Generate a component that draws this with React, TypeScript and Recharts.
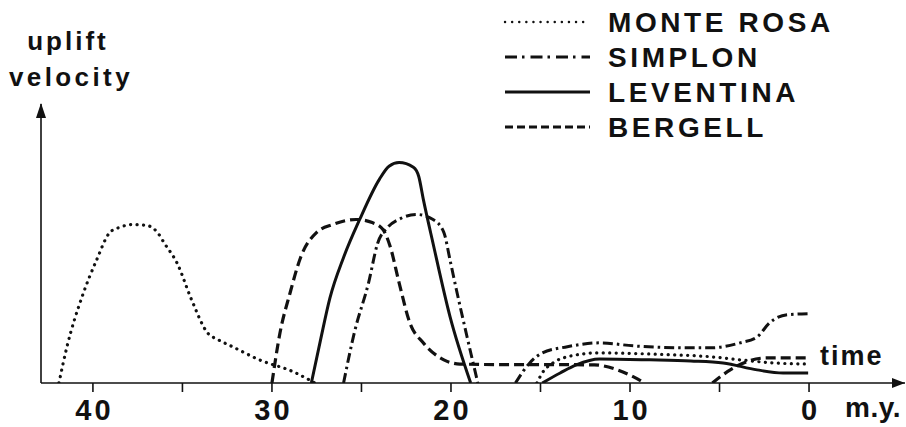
import React from 'react';
import { LineChart, Line, XAxis, YAxis, Legend } from 'recharts';

// ages in m.y. (x axis runs from old on the left to 0 on the right), uplift velocity in relative units (0-100)
// null velocity = gap between two separate episodes of the same massif

const MONTE_ROSA_AGE = [41.9, 41.45, 40.6, 39.8, 39.05, 38.5, 37.8, 37.0, 36.4, 36.0, 35.3, 34.5, 33.6, 33.0, 32.2, 30.7, 28.8, 27.6, 20, 15.2, 14.9, 14.3, 13.5, 11.7, 8.5, 5.5, 3.85, 2.0, 0.05];
const MONTE_ROSA_VEL = [0, 13, 31, 44, 54, 55.8, 56.8, 56.5, 54, 50, 43, 30, 18, 15.5, 13, 8.3, 4, 0, null, 0, 3.6, 7.2, 9.4, 10.8, 10.3, 9.4, 8.3, 7.2, 6.8];

const SIMPLON_AGE = [26.0, 25.4, 24.6, 24.1, 23.5, 22.8, 21.9, 21.0, 20.4, 20.05, 19.7, 19.1, 18.5, 17.5, 16.4, 15.6, 14.9, 13.5, 11.7, 9.8, 6.6, 5.5, 3.85, 2.9, 2.2, 1.2, 0.05];
const SIMPLON_VEL = [0, 18, 36, 50, 56, 59, 60.4, 58.6, 54, 44, 33.5, 16.5, 0, null, 0, 7.2, 10.8, 13, 14.4, 13.3, 12.6, 12.6, 14.4, 16.5, 21.6, 24.5, 24.8];

const LEVENTINA_AGE = [27.8, 27.3, 26.76, 26.0, 25.1, 24.0, 23.46, 22.9, 22.1, 21.8, 21.55, 21.0, 20.05, 18.9, 17, 14.9, 13.9, 13.0, 11.7, 8.9, 6.6, 4.8, 2.9, 1.45, 0.05];
const LEVENTINA_VEL = [0, 15, 30.5, 45, 58.6, 73, 77.7, 79, 77.3, 74, 66, 50, 23.7, 0, null, 0, 3.6, 6.5, 8.6, 8.3, 7.9, 7.2, 4.7, 3.6, 3.6];

const BERGELL_AGE = [30.0, 29.55, 29.0, 28.4, 27.5, 26.6, 25.3, 24.4, 23.8, 23.4, 22.9, 22.3, 21.55, 20.4, 19.5, 17.3, 15.6, 12.0, 10.7, 9.8, 9.2, 7, 5.4, 4.4, 3.5, 2.35, 0.05];
const BERGELL_VEL = [0, 18, 32, 45, 54, 56.8, 58.6, 57.5, 55, 49, 36, 21.6, 14.4, 8.3, 6.8, 6.6, 6.6, 6.5, 4.7, 2.2, 0, null, 0, 4.7, 7.6, 9, 9];

const AGE_TICKS = [40, 35, 30, 25, 20, 15, 10, 5, 0];

const toPoints = (ages: number[], vel: (number | null)[]) => ages.map((age, i) => ({ age, v: vel[i] }));

const FONT = '"Liberation Sans", Arial, sans-serif';
const INK = '#111';

const SERIES = [
  { name: 'MONTE ROSA', data: toPoints(MONTE_ROSA_AGE, MONTE_ROSA_VEL), dash: '0.1 6.4', legendDash: '0.1 7', cap: 'round', width: 3.2 },
  { name: 'SIMPLON', data: toPoints(SIMPLON_AGE, SIMPLON_VEL), dash: '10 4 2.5 4', legendDash: '12 5 2.5 6', cap: 'butt', width: 3 },
  { name: 'LEVENTINA', data: toPoints(LEVENTINA_AGE, LEVENTINA_VEL), dash: undefined, legendDash: undefined, cap: 'butt', width: 3 },
  { name: 'BERGELL', data: toPoints(BERGELL_AGE, BERGELL_VEL), dash: '10 5', legendDash: '8 4', cap: 'butt', width: 3.2 },
];

const AgeTick = ({ x, y, payload }: any) => {
  if (payload.value % 10 !== 0) return <g />;
  return (
    <text x={x + 1.5} y={y} dy={26} textAnchor="middle" fontFamily={FONT} fontWeight={700}
      fontSize={29} letterSpacing={3} fill={INK}>
      {payload.value}
    </text>
  );
};

const renderLegend = () => (
  <svg width={360} height={150}>
    {SERIES.map((s, i) => {
      const cy = 22 + i * 35;
      return (
        <g key={s.name}>
          <line x1={5} x2={90} y1={cy} y2={cy} stroke={INK} strokeWidth={s.cap === 'round' ? 2.4 : 2.8}
            strokeDasharray={s.legendDash} strokeLinecap={s.cap as any} />
          <text x={108} y={cy + 10} fontFamily={FONT} fontWeight={700} fontSize={28}
            letterSpacing={3.6} fill={INK}>
            {s.name}
          </text>
        </g>
      );
    })}
  </svg>
);

// x-axis label: arrow head at the right end of the axis, plus "time" and "m.y."
const xLabel = (props: any) => {
  const { x, y, width } = props.viewBox;
  const right = x + width;
  return (
    <g>
      <path d={`M${right - 13},${y - 5} L${right},${y} L${right - 13},${y + 5} Z`} fill={INK} />
      <text x={right - 85} y={y - 18} fontFamily={FONT} fontWeight={700} fontSize={27} letterSpacing={2} fill={INK}>time</text>
      <text x={right - 60} y={y + 34} fontFamily={FONT} fontWeight={700} fontSize={28} letterSpacing={0.5} fill={INK}>m.y.</text>
    </g>
  );
};

// y-axis label: arrow head at the top of the axis, plus the two-line title
const yLabel = (props: any) => {
  const { x, y, width } = props.viewBox;
  const ax = x + width;
  return (
    <g fontFamily={FONT} fontWeight={700} fontSize={26} fill={INK} textAnchor="middle">
      <path d={`M${ax - 5},${y + 14} L${ax},${y - 1} L${ax + 5},${y + 14} Z`} fill={INK} />
      <text x={ax + 27} y={y - 54} letterSpacing={3}>uplift</text>
      <text x={ax + 30} y={y - 18} letterSpacing={3.4}>velocity</text>
    </g>
  );
};

export default function App() {
  return (
    <div style={{ position: 'absolute', left: 0, top: 0, width: 906, height: 427, background: '#fff' }}>
      <LineChart width={906} height={427} margin={{ top: 104, right: 1, bottom: 0, left: 40 }}>
        <XAxis type="number" dataKey="age" domain={[-5.36, 42.9]} reversed allowDataOverflow
          ticks={AGE_TICKS} interval={0} height={44} tickSize={9} tick={<AgeTick />}
          tickLine={{ stroke: INK, strokeWidth: 1.6 }}
          axisLine={{ stroke: INK, strokeWidth: 1.6 }}
          label={xLabel} />
        <YAxis type="number" domain={[0, 100]} width={1} tick={false} tickLine={false}
          allowDataOverflow
          axisLine={{ stroke: INK, strokeWidth: 1.6 }}
          label={yLabel} />
        <Legend layout="vertical" align="center" verticalAlign="middle" content={renderLegend}
          wrapperStyle={{ left: 500, top: 0, width: 360 }} />
        {SERIES.map((s) => (
          <Line key={s.name} data={s.data} dataKey="v" name={s.name} type="monotone"
            stroke={INK} strokeWidth={s.width} strokeDasharray={s.dash} strokeLinecap={s.cap as any}
            dot={false} activeDot={false} connectNulls={false} isAnimationActive={false} />
        ))}
      </LineChart>
    </div>
  );
}
